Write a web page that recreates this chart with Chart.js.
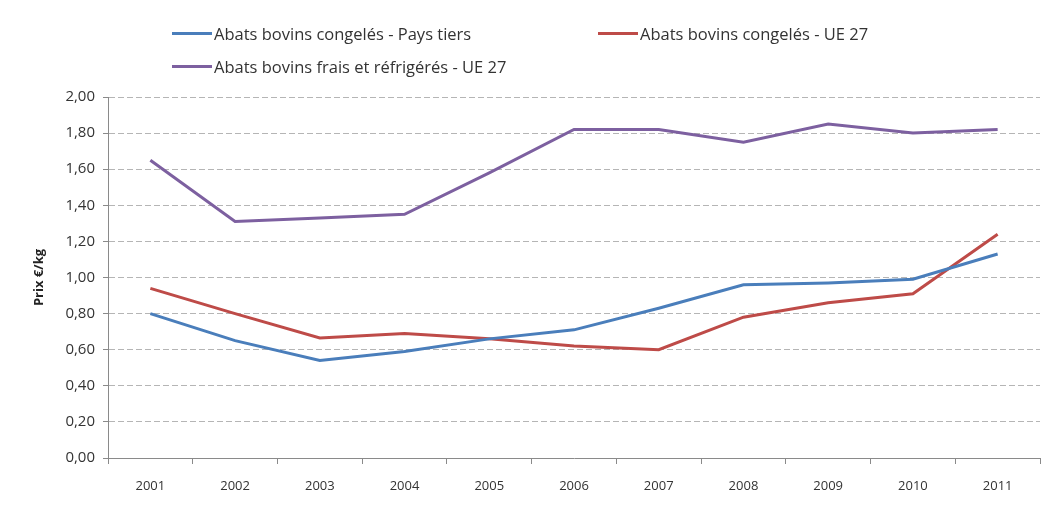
<!DOCTYPE html>
<html>
<head>
<meta charset="utf-8">
<script src="https://cdn.jsdelivr.net/npm/chart.js@4.4.0/dist/chart.umd.min.js"></script>
<style>
  body { margin: 0; background: #fff; }
  #wrap { position: relative; width: 1048px; height: 507px; }
  #legend { position: absolute; left: 0; top: 0; width: 1048px; height: 90px;
            font-family: "Open Sans", sans-serif; font-size: 16.5px; color: #333; }
  .item { position: absolute; display: flex; align-items: center; white-space: nowrap; }
  .item span.sw { display: inline-block; width: 40px; height: 3px; margin-right: 2px; }
</style>
</head>
<body>
<div id="wrap">
  <canvas id="chart" width="1048" height="507"></canvas>
  <div id="legend"></div>
</div>
<script>
const years = ['2001', '2002', '2003', '2004', '2005', '2006', '2007', '2008', '2009', '2010', '2011'];
const congelesPaysTiers = [0.80, 0.65, 0.54, 0.59, 0.66, 0.71, 0.83, 0.96, 0.97, 0.99, 1.13];
const congelesUE27 = [0.94, 0.80, 0.665, 0.69, 0.66, 0.62, 0.60, 0.78, 0.86, 0.91, 1.24];
const fraisUE27 = [1.65, 1.31, 1.33, 1.35, 1.58, 1.82, 1.82, 1.75, 1.85, 1.80, 1.82];
const seriesNames = [
  'Abats bovins congelés - Pays tiers',
  'Abats bovins congelés - UE 27',
  'Abats bovins frais et réfrigérés - UE 27'
];
const yTicks = [0, 0.2, 0.4, 0.6, 0.8, 1.0, 1.2, 1.4, 1.6, 1.8, 2.0];

const font = "'Open Sans', sans-serif";

function line(label, data, color) {
  return {
    label: label,
    data: data,
    borderColor: color,
    backgroundColor: color,
    borderWidth: 3,
    pointRadius: 0,
    tension: 0,
    fill: false
  };
}

const chart = new Chart(document.getElementById('chart'), {
  type: 'line',
  data: {
    labels: years,
    datasets: [
      line(seriesNames[0], congelesPaysTiers, '#4a7ebb'),
      line(seriesNames[1], congelesUE27, '#be4b48'),
      line(seriesNames[2], fraisUE27, '#7d60a0')
    ]
  },
  options: {
    responsive: false,
    animation: false,
    layout: { padding: { top: 97, right: 8, bottom: 9, left: 0 } },
    plugins: {
      legend: { display: false },
      tooltip: { enabled: false }
    },
    scales: {
      x: {
        offset: true,
        grid: { offset: true, drawOnChartArea: false, tickLength: 6, color: '#8a8a8a' },
        border: { color: '#8a8a8a', width: 1 },
        ticks: { font: { family: font, size: 13 }, color: '#333', padding: 14, maxRotation: 0 },
        afterFit: s => { s.height = 40; }
      },
      y: {
        min: 0,
        max: 2,
        afterBuildTicks: s => { s.ticks = yTicks.map(v => ({ value: v })); },
        // border.dash dashes the horizontal grid lines
        grid: { color: '#b5b5b5', tickLength: 5, tickColor: '#8a8a8a' },
        border: { color: '#8a8a8a', width: 1, dash: [6, 3] },
        ticks: {
          font: { family: font, size: 15 },
          color: '#333',
          padding: 8,
          callback: v => v.toFixed(2).replace('.', ',')
        },
        title: {
          display: true,
          text: 'Prix €/kg',
          font: { family: font, size: 13, weight: 'bold' },
          color: '#222',
          padding: { top: 31, bottom: 0 }
        },
        afterFit: s => { s.width = 108; }
      }
    }
  }
});

// legend built from the datasets
const legendPos = [[172, 33], [598, 33], [172, 66]];
const legend = document.getElementById('legend');
chart.data.datasets.forEach((ds, i) => {
  const item = document.createElement('div');
  item.className = 'item';
  item.style.left = legendPos[i][0] + 'px';
  item.style.top = (legendPos[i][1] - 11) + 'px';
  item.innerHTML = '<span class="sw" style="background:' + ds.borderColor + '"></span>' + ds.label;
  legend.appendChild(item);
});
</script>
</body>
</html>
